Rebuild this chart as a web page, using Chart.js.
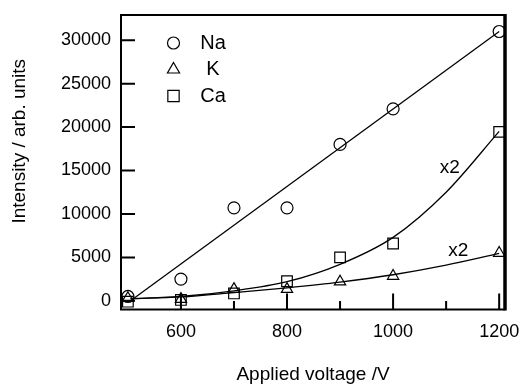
<!DOCTYPE html>
<html>
<head>
<meta charset="utf-8">
<script src="https://cdn.jsdelivr.net/npm/chart.js@4.4.1/dist/chart.umd.min.js"></script>
<style>
    html, body { margin: 0; padding: 0; background: #fff; }
    #wrap { width: 522px; height: 385px; }
</style>
</head>
<body>
<div id="wrap"><canvas id="chart" width="522" height="385"></canvas></div>
<script>
// --- measured points
const voltages = [500, 600, 700, 800, 900, 1000, 1200];
const naValues = [500, 2500, 10700, 10700, 18000, 22100, 31000];
const kValues = [300, 200, 1350, 1350, 2200, 2850, 5500];
const caValues = [-100, 100, 850, 2250, 5000, 6600, 19450];

// --- fitted curves
const naFitVoltages = [505, 1200];
const naFit = [0, 31000];
const fitVoltages = [505, 600, 700, 800, 900, 1000, 1100, 1200];
const kFit = [250, 450, 950, 1500, 2150, 3000, 4100, 5450];
const caFit = [250, 500, 1150, 2200, 4200, 7300, 12500, 19500];

// --- axes
const xTicks = [600, 800, 1000, 1200];
const xMinorTicks = [700, 900, 1100];
const yTicks = [0, 5000, 10000, 15000, 20000, 25000, 30000];

// --- legend and notes
const seriesNames = ['Na', 'K', 'Ca'];
const seriesStyles = ['circle', 'triangle', 'rect'];
const notes = [
    { text: 'x2', x: 1107, y: 14700 },
    { text: 'x2', x: 1123, y: 5200 }
];

const FONT = "'Liberation Sans', Arial, sans-serif";
const pts = (xs, ys) => xs.map((v, i) => ({ x: v, y: ys[i] }));

function markerSet(label, values, style, radius) {
    return {
        label: label,
        data: pts(voltages, values),
        showLine: false,
        pointStyle: style,
        pointRadius: radius,
        pointHoverRadius: radius,
        pointBorderColor: '#000',
        pointBackgroundColor: 'rgba(0,0,0,0)',
        pointBorderWidth: 1.2,
        clip: false
    };
}

function fitSet(xs, ys) {
    return {
        data: pts(xs, ys),
        showLine: true,
        pointRadius: 0,
        borderColor: '#000',
        borderWidth: 1.3,
        cubicInterpolationMode: 'monotone'
    };
}

// drop the extra room chart.js keeps for edge labels
function noEdgePadding(s) {
    s.paddingLeft = 0;
    s.paddingRight = 0;
    s.paddingTop = 0;
    s.paddingBottom = 0;
}

const overlay = {
    id: 'overlay',
    afterDraw(chart) {
        const { ctx, chartArea: a, scales: { x, y } } = chart;
        ctx.save();
        ctx.strokeStyle = '#000';
        ctx.fillStyle = '#000';

        // frame
        ctx.lineWidth = 2;
        ctx.beginPath();
        ctx.moveTo(a.right, a.top);
        ctx.lineTo(a.left, a.top);
        ctx.lineTo(a.left, a.bottom);
        ctx.lineTo(a.right, a.bottom);
        ctx.stroke();
        ctx.lineWidth = 3.5;
        ctx.beginPath();
        ctx.moveTo(a.right, a.top - 1);
        ctx.lineTo(a.right, a.bottom + 1);
        ctx.stroke();

        // inward ticks
        ctx.lineWidth = 2;
        ctx.beginPath();
        yTicks.forEach(v => {
            const py = y.getPixelForValue(v);
            ctx.moveTo(a.left, py);
            ctx.lineTo(a.left + 14, py);
        });
        xTicks.forEach(v => {
            const px = x.getPixelForValue(v);
            ctx.moveTo(px, a.bottom);
            ctx.lineTo(px, a.bottom - 16);
        });
        xMinorTicks.forEach(v => {
            const px = x.getPixelForValue(v);
            ctx.moveTo(px, a.bottom);
            ctx.lineTo(px, a.bottom - 8.5);
        });
        ctx.stroke();

        // legend
        ctx.font = '20px ' + FONT;
        ctx.textAlign = 'center';
        ctx.textBaseline = 'middle';
        seriesNames.forEach((name, i) => {
            const cy = a.top + 28 + i * 26.5;
            const r = seriesStyles[i] === 'rect' ? 8 : (seriesStyles[i] === 'triangle' ? 7 : 6);
            ctx.lineWidth = 1.2;
            ctx.fillStyle = 'rgba(0,0,0,0)';
            Chart.helpers.drawPoint(ctx, { pointStyle: seriesStyles[i], radius: r, borderWidth: 1.2 }, a.left + 52.5, cy);
            ctx.fillStyle = '#000';
            ctx.fillText(name, a.left + 92, cy);
        });

        // notes
        ctx.font = '19px ' + FONT;
        ctx.textBaseline = 'alphabetic';
        notes.forEach(n => {
            ctx.fillText(n.text, x.getPixelForValue(n.x), y.getPixelForValue(n.y));
        });

        // axis titles
        ctx.font = '19px ' + FONT;
        ctx.fillText('Applied voltage /V', (a.left + a.right) / 2, 380);
        ctx.translate(25, (a.top + a.bottom) / 2 - 21);
        ctx.rotate(-Math.PI / 2);
        ctx.fillText('Intensity / arb. units', 0, 0);
        ctx.restore();
    }
};

new Chart(document.getElementById('chart'), {
    type: 'scatter',
    data: {
        datasets: [
            fitSet(naFitVoltages, naFit),
            fitSet(fitVoltages, kFit),
            fitSet(fitVoltages, caFit),
            markerSet('Na', naValues, 'circle', 6),
            markerSet('K', kValues, 'triangle', 6.5),
            markerSet('Ca', caValues, 'rect', 7.5)
        ]
    },
    options: {
        responsive: false,
        animation: false,
        events: [],
        layout: { padding: { top: 15, right: 17, left: 0, bottom: 0 } },
        plugins: {
            legend: { display: false },
            tooltip: { enabled: false }
        },
        scales: {
            x: {
                type: 'linear',
                min: 487,
                max: 1211,
                grid: { display: false, drawTicks: false },
                border: { display: false },
                afterBuildTicks: s => { s.ticks = xTicks.map(v => ({ value: v })); },
                afterFit: s => { s.height = 75.5; noEdgePadding(s); },
                ticks: {
                    color: '#000',
                    padding: 12,
                    maxRotation: 0,
                    callback: v => String(v),
                    font: { family: FONT, size: 18 }
                }
            },
            y: {
                min: -1000,
                max: 32900,
                grid: { display: false, drawTicks: false },
                border: { display: false },
                afterBuildTicks: s => { s.ticks = yTicks.map(v => ({ value: v })); },
                afterFit: s => { s.width = 121; noEdgePadding(s); },
                ticks: {
                    color: '#000',
                    padding: 10,
                    callback: v => String(v),
                    font: { family: FONT, size: 18 }
                }
            }
        }
    },
    plugins: [overlay]
});
</script>
</body>
</html>
